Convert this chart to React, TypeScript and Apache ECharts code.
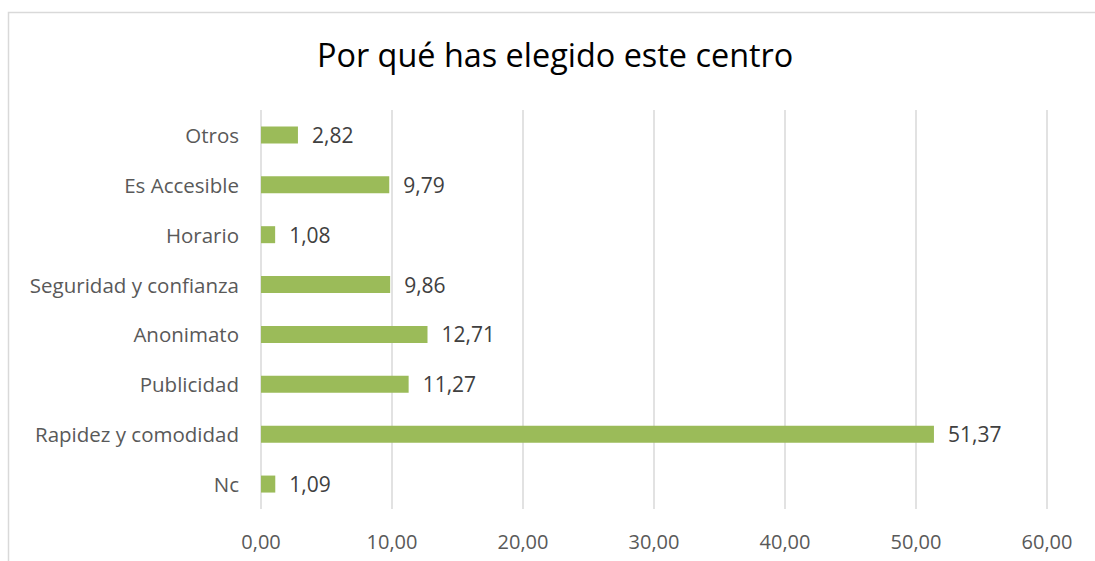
import React, { useEffect, useRef } from "react";
import * as echarts from "echarts";

const title = "Por qué has elegido este centro";
const categories = [
  "Otros",
  "Es Accesible",
  "Horario",
  "Seguridad y confianza",
  "Anonimato",
  "Publicidad",
  "Rapidez y comodidad",
  "Nc",
];
const values = [2.82, 9.79, 1.08, 9.86, 12.71, 11.27, 51.37, 1.09];
const axisMin = 0;
const axisMax = 60;
const axisInterval = 10;

const fmt = (v: number) => v.toFixed(2).replace(".", ",");
const FONT = "'Open Sans', 'Noto Sans', sans-serif";

export default function App() {
  const ref = useRef<HTMLDivElement>(null);
  useEffect(() => {
    if (!ref.current) return;
    const chart = echarts.init(ref.current, undefined, { renderer: "svg" });
    chart.setOption({
      animation: false,
      backgroundColor: "#ffffff",
      graphic: [
        {
          type: "rect",
          shape: { x: 8.5, y: 12.5, width: 1200, height: 700 },
          style: { fill: "none", stroke: "#d9d9d9", lineWidth: 1.5 },
          silent: true,
        },
      ],
      title: {
        text: title,
        left: 312,
        top: 33,
        textStyle: { fontFamily: FONT, fontSize: 32.4, fontWeight: "normal", color: "#000000" },
      },
      grid: { left: 261, right: 48, top: 110, bottom: 52, containLabel: false },
      xAxis: {
        type: "value",
        min: axisMin,
        max: axisMax,
        interval: axisInterval,
        axisLine: { show: false },
        axisTick: { show: false },
        splitLine: { show: true, lineStyle: { color: "#d9d9d9", width: 1.5 } },
        axisLabel: {
          formatter: (v: number) => fmt(v),
          color: "#595959",
          fontFamily: FONT,
          fontSize: 20,
          margin: 22,
        },
      },
      yAxis: {
        type: "category",
        data: categories,
        inverse: true,
        axisLine: { show: false },
        axisTick: { show: false },
        splitLine: { show: false },
        axisLabel: {
          color: "#595959",
          fontFamily: FONT,
          fontSize: 20.5,
          margin: 22,
        },
      },
      series: [
        {
          type: "bar",
          data: values,
          barWidth: 17,
          itemStyle: { color: "#9BBB59" },
          label: {
            show: true,
            position: "right",
            distance: 14,
            formatter: (p: any) => fmt(p.value),
            color: "#404040",
            fontFamily: FONT,
            fontSize: 21,
          },
        },
      ],
    });
    return () => chart.dispose();
  }, []);
  return (
    <div
      ref={ref}
      style={{ position: "fixed", left: 0, top: 0, width: 1095, height: 561 }}
    />
  );
}
